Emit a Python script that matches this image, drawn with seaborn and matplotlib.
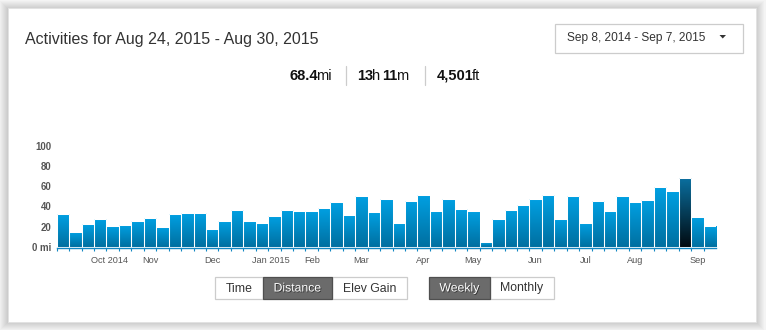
import numpy as np
import pandas as pd
import matplotlib
matplotlib.use("Agg")
import matplotlib.pyplot as plt
import matplotlib.patheffects as pe
from matplotlib.patches import Rectangle, Polygon
from matplotlib.colors import LinearSegmentedColormap
import seaborn as sns

# ---------------- data ----------------
week_starts = pd.date_range("2014-09-08", periods=53, freq="7D")
distance_mi = [32.5, 14.5, 22.5, 27.5, 20.5, 21.5, 25.5, 28.5, 19.5, 32.5,
               33.5, 33.5, 17.5, 25.5, 36.5, 25.5, 23.5, 30.5, 36.5, 35.5,
               35.5, 38.5, 44.5, 31.5, 50.5, 34.5, 47.5, 23.5, 45.5, 51.5,
               35.5, 47.5, 37.5, 35.5, 4.5, 27.5, 36.5, 41.5, 47.5, 51.5,
               27.5, 50.5, 23.5, 45.5, 35.5, 50.5, 44.5, 46.5, 59.5, 55.5,
               68.4, 29.5, 20.5]
selected_week = 50  # week of Aug 24, 2015
y_ticks = [0, 20, 40, 60, 80, 100]
y_tick_labels = ["0 mi", "20", "40", "60", "80", "100"]
month_starts = ["2014-10-01", "2014-11-01", "2014-12-01", "2015-01-01",
                "2015-02-01", "2015-03-01", "2015-04-01", "2015-05-01",
                "2015-06-01", "2015-07-01", "2015-08-01", "2015-09-01"]
month_labels = ["Oct 2014", "Nov", "Dec", "Jan 2015", "Feb", "Mar", "Apr",
                "May", "Jun", "Jul", "Aug", "Sep"]

title_text = "Activities for Aug 24, 2015 - Aug 30, 2015"
range_text = "Sep 8, 2014 - Sep 7, 2015"
stats_parts = [[("68.4", "bold"), ("mi", "normal")],
               [("13", "bold"), ("h ", "normal"), ("11", "bold"), ("m", "normal")],
               [("4,501", "bold"), ("ft", "normal")]]
metric_buttons = ["Time", "Distance", "Elev Gain"]
period_buttons = ["Weekly", "Monthly"]

# ---------------- style ----------------
sns.set_theme(style="white")
plt.rcParams["font.family"] = ["Liberation Sans", "DejaVu Sans"]

W, H = 766, 330
fig = plt.figure(figsize=(W / 100, H / 100), dpi=100, facecolor="#f4f4f4")

# background / card layer in pixel coordinates
bg = fig.add_axes([0, 0, 1, 1], zorder=0)
bg.set_xlim(0, W)
bg.set_ylim(H, 0)
bg.axis("off")
bg.patch.set_alpha(0)

card = (8, 8, 756, 322)
for k in range(8, 0, -1):
    bg.add_patch(Rectangle((card[0] - k, card[1] - k + 1),
                           card[2] - card[0] + 2 * k, card[3] - card[1] + 2 * k - 1,
                           facecolor="#000000", alpha=0.018, edgecolor="none"))
bg.add_patch(Rectangle((card[0], card[1]), card[2] - card[0], card[3] - card[1],
                       facecolor="white", edgecolor="#e2e2e2", linewidth=0.6))

# header
bg.text(25, 44, title_text, fontsize=11.5, color="#333333", va="baseline", ha="left")
bg.add_patch(Rectangle((554.5, 23.5), 188, 29, facecolor="white",
                       edgecolor="#cccccc", linewidth=0.9))
bg.text(636, 41.5, range_text, fontsize=8.6, color="#333333", va="baseline", ha="center")
bg.add_patch(Polygon([[719.5, 35], [726, 35], [722.75, 38.5]], closed=True,
                     facecolor="#333333", edgecolor="none"))

# stats line
fig.canvas.draw()
renderer = fig.canvas.get_renderer()
starts = [289.3, 357.0, 436.7]
for group, x0 in zip(stats_parts, starts):
    x = x0
    for txt, wt in group:
        t = bg.text(x, 79.5, txt, fontsize=10.5, fontweight=wt, color="#111111",
                    va="baseline", ha="left")
        bb = t.get_window_extent(renderer)
        x = bb.x1 - 1.5
for sx in [345.7, 425.0]:
    bg.plot([sx, sx], [66, 85], color="#cccccc", linewidth=0.9)

# buttons
def button_row(labels, edges, active):
    for i, lab in enumerate(labels):
        x0, x1 = edges[i], edges[i + 1]
        on = (lab == active)
        bg.add_patch(Rectangle((x0, 276.5), x1 - x0, 22.5,
                               facecolor="#6b6b6b" if on else "white",
                               edgecolor="#4f4f4f" if on else "#cccccc",
                               linewidth=0.9, zorder=3 if on else 2))
        kw = dict(fontsize=8.8, ha="center", va="baseline", zorder=4)
        if on:
            bg.text((x0 + x1) / 2, 291.5, lab, color="white",
                    path_effects=[pe.withSimplePatchShadow(offset=(0.6, -0.6),
                                                           shadow_rgbFace="#222222",
                                                           alpha=0.8)], **kw)
        else:
            bg.text((x0 + x1) / 2, 291.5, lab, color="#333333", **kw)

button_row(metric_buttons, [215, 263, 332, 407], "Distance")
button_row(period_buttons, [429, 490, 554], "Weekly")

# ---------------- bar chart ----------------
ax_left, ax_right = 56.7, 716.0
ax_bottom, ax_top = 246.6, 146.3
ax = fig.add_axes([ax_left / W, (H - ax_bottom) / H,
                   (ax_right - ax_left) / W, (ax_bottom - ax_top) / H], zorder=2)
ax.patch.set_alpha(0)

df = pd.DataFrame({"week": np.arange(len(distance_mi)), "distance": distance_mi})
sns.barplot(data=df, x="week", y="distance", ax=ax, width=1.0,
            color="#0088c8", saturation=1, errorbar=None)

cmap_norm = LinearSegmentedColormap.from_list("norm", ["#006fa0", "#00a0e2"])
cmap_sel = LinearSegmentedColormap.from_list("sel", ["#010a10", "#0a6f9f"])
grad = np.linspace(0, 1, 256).reshape(-1, 1)
for i, p in enumerate(ax.patches):
    x0, w, h = p.get_x(), p.get_width(), p.get_height()
    p.set_facecolor("none")
    p.set_edgecolor("white")
    p.set_linewidth(0.75)
    p.set_zorder(3)
    im = ax.imshow(grad, extent=[x0, x0 + w, 0, h], origin="lower", aspect="auto",
                   cmap=cmap_sel if i == selected_week else cmap_norm,
                   interpolation="bilinear", zorder=2)
    im.set_clip_path(p)

n = len(distance_mi)
ax.set_xlim(-0.5, n - 0.5)
ax.set_ylim(0, 100)
ax.set_xlabel("")
ax.set_ylabel("")

# y axis
ax.set_yticks(y_ticks)
ax.set_yticklabels(y_tick_labels)
ax.tick_params(axis="y", length=0, pad=4.0, labelsize=6.9, labelcolor="#555555")
for lab in ax.get_yticklabels():
    lab.set_fontweight("bold")

# x axis: month label sits under the week containing the 1st; labels that
# carry the year are nudged right so the month part stays centred
month_pos = []
for d, lab in zip(month_starts, month_labels):
    pos = (pd.Timestamp(d) - week_starts[0]).days // 7
    if " " in lab:
        pos += 0.73
    month_pos.append(pos)
ax.set_xticks(month_pos)
ax.set_xticklabels(month_labels)
ax.set_xticks(np.arange(n) - 0.5, minor=True)
ax.tick_params(axis="x", which="major", length=0, pad=6.0, labelsize=6.6,
               labelcolor="#555555")
ax.tick_params(axis="x", which="minor", length=2.4, width=0.8, color="#1287c2",
               direction="out", bottom=True)
for lab in ax.get_xticklabels():
    lab.set_fontweight("bold")

for s in ["top", "right", "left"]:
    ax.spines[s].set_visible(False)
ax.spines["bottom"].set_color("#1287c2")
ax.spines["bottom"].set_linewidth(1.0)
ax.spines["bottom"].set_position(("outward", 0.8))
ax.grid(False)

fig.savefig("out.png", dpi=100, facecolor=fig.get_facecolor())
